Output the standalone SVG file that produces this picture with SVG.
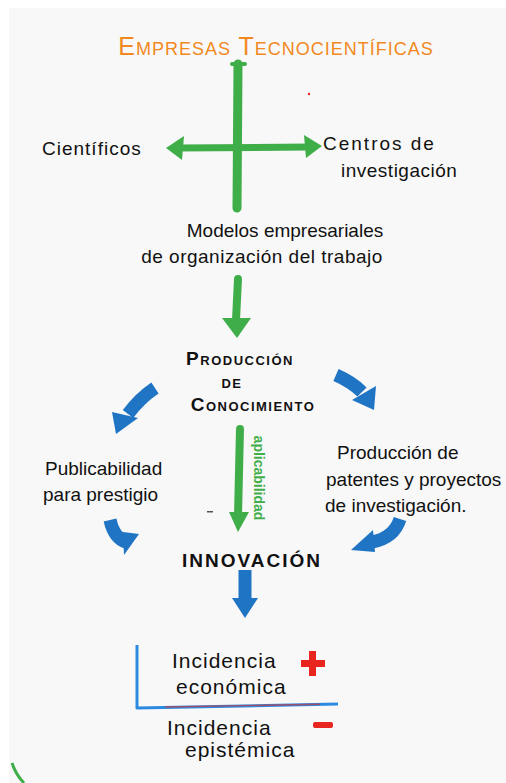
<svg xmlns="http://www.w3.org/2000/svg" width="506" height="783" viewBox="0 0 506 783">
  <defs>
    <style>
      .ink { font-family: "Liberation Sans", "DejaVu Sans", sans-serif; fill: #111; font-size: 19px; }
      .caps { font-variant: small-caps; letter-spacing: 1.5px; font-weight: 600; }
      .title { fill: #f2891f; font-size: 25px; letter-spacing: 1px; font-weight: 400; }
      .big { font-size: 21px; letter-spacing: 1px; }
      .green { stroke: #3fae49; fill: none; stroke-linecap: round; }
      .greenfill { fill: #3fae49; }
      .blue { stroke: #1f74c4; fill: none; stroke-width: 13; stroke-linecap: butt; }
      .bluefill { fill: #1f74c4; }
      .red { fill: #e8261f; }
    </style>
  </defs>

  <!-- paper -->
  <rect width="506" height="783" fill="#ffffff"/>
  <rect x="9" y="8" width="497" height="775" fill="#f8f8f8"/>

  <!-- connectors -->
  <g id="connectors">
    <!-- green cross -->
    <path class="green" d="M238 64 L237 208" stroke-width="9"/>
    <path class="green" d="M232 64 L245 64" stroke-width="4"/>
    <path class="green" d="M178 148 L310 147" stroke-width="7"/>
    <polygon class="greenfill" points="166,148 184,136 182,160"/>
    <polygon class="greenfill" points="322,146 304,135 306,158"/>
    <!-- green down arrow -->
    <path class="green" d="M238 279 L236 320" stroke-width="8"/>
    <polygon class="greenfill" points="222,318 251,318 237,338"/>
    <!-- aplicabilidad arrow -->
    <path class="green" d="M240 429 L238 516" stroke-width="8"/>
    <polygon class="greenfill" points="229,512 249,512 238,532"/>
    <!-- blue curved arrows -->
    <path class="blue" d="M155 388 Q140 398 128 414"/>
    <polygon class="bluefill" points="112,412 138,418 116,434"/>
    <path class="blue" d="M336 375 Q352 382 362 392"/>
    <polygon class="bluefill" points="352,400 376,386 374,410"/>
    <path class="blue" d="M110 520 Q114 538 126 542"/>
    <polygon class="bluefill" points="123,532 139,534 124,555"/>
    <path class="blue" d="M400 519 Q394 538 372 542"/>
    <polygon class="bluefill" points="373,530 375,552 351,550"/>
    <path class="blue" d="M245 570 L245 600"/>
    <polygon class="bluefill" points="232,598 258,598 245,618"/>
    <!-- axes -->
    <path d="M137 645 L137 708 L338 704" fill="none" stroke="#2b8be0" stroke-width="3" stroke-linejoin="round"/>
    <path d="M165 707 L320 704.3" fill="none" stroke="#e8261f" stroke-width="1.4" opacity="0.6"/>
  </g>

  <g id="title"><text class="ink caps title" x="276" y="55" text-anchor="middle">Empresas Tecnocientíficas</text></g>
  <g id="cientificos"><text class="ink" x="42" y="155" font-size="22" letter-spacing="1">Científicos</text></g>
  <g id="centros">
    <text class="ink" x="323" y="150" font-size="22" letter-spacing="2">Centros de</text>
    <text class="ink" x="341" y="177" font-size="21" letter-spacing="0.5">investigación</text>
  </g>
  <g id="modelos">
    <text class="ink" x="285" y="237" text-anchor="middle">Modelos empresariales</text>
    <text class="ink" x="262" y="263" text-anchor="middle" font-size="20" letter-spacing="0.5">de organización del trabajo</text>
  </g>
  <g id="produccion">
    <text class="ink caps" x="240" y="365" text-anchor="middle">Producción</text>
    <text class="ink caps" x="232" y="388" text-anchor="middle">de</text>
    <text class="ink caps" x="253" y="411" text-anchor="middle">Conocimiento</text>
  </g>
  <g id="aplicabilidad">
    <text x="259" y="478" transform="rotate(90 259 478)" text-anchor="middle" dominant-baseline="central" font-family="Liberation Sans, sans-serif" font-size="14" font-weight="bold" fill="#3fae49">aplicabilidad</text>
  </g>
  <g id="publicabilidad">
    <text class="ink" x="45" y="475">Publicabilidad</text>
    <text class="ink" x="43" y="501">para prestigio</text>
  </g>
  <g id="patentes">
    <text class="ink" x="337" y="459">Producción de</text>
    <text class="ink" x="326" y="486">patentes y proyectos</text>
    <text class="ink" x="325" y="512">de investigación.</text>
  </g>
  <g id="innovacion"><text class="ink" x="252" y="567" text-anchor="middle" font-size="20" letter-spacing="2" font-weight="600">INNOVACIÓN</text></g>
  <g id="economica">
    <text class="ink big" x="172" y="668" font-size="22" letter-spacing="1.8">Incidencia</text>
    <text class="ink big" x="176" y="694" font-size="22" letter-spacing="1">económica</text>
    <rect class="red" x="301" y="660" width="24" height="7"/>
    <rect class="red" x="309" y="651" width="7" height="25"/>
  </g>
  <g id="epistemica">
    <text class="ink big" x="167" y="735" font-size="22" letter-spacing="1.5">Incidencia</text>
    <text class="ink big" x="185" y="757" font-size="22" letter-spacing="1">epistémica</text>
    <rect class="red" x="313" y="722" width="20" height="6" rx="2"/>
  </g>
  <!-- stray marks -->
  <circle cx="309" cy="94" r="1.2" fill="#e8261f"/>
  <rect x="207" y="511" width="6" height="1.5" fill="#555"/>
  <path d="M12 763 Q16 775 24 783" fill="none" stroke="#3fae49" stroke-width="3"/>
</svg>
